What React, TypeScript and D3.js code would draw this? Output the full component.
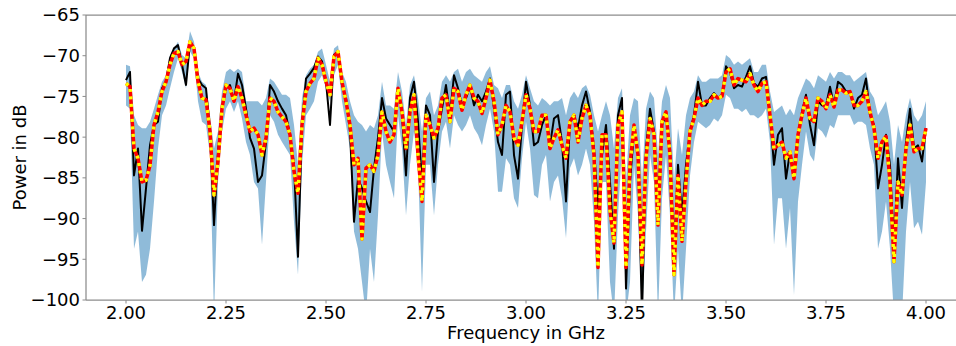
import React from 'react';
import * as d3 from 'd3';

// Frequency grid (GHz), 0.01 GHz spacing from 2.00 to 4.00
const FREQ: number[] = d3.range(201).map((i) => +(2 + i * 0.01).toFixed(2));

// Black line: measured power (dB)
const MEASURED: number[] = [
  -73.0, -72.0, -84.7, -81.4, -91.5, -86.3, -81.0, -78.5, -78.1, -74.0,
  -73.2, -70.3, -69.1, -68.7, -71.1, -73.6, -68.3, -69.1, -72.8, -73.6,
  -74.0, -79.3, -90.8, -81.8, -76.5, -74.0, -73.6, -75.6, -72.2, -73.6,
  -76.5, -80.1, -81.4, -85.5, -84.7, -80.6, -73.6, -74.4, -75.6, -76.5,
  -77.3, -79.7, -83.4, -94.7, -78.5, -72.8, -72.2, -71.5, -70.1, -70.7,
  -73.2, -78.5, -69.9, -69.5, -73.6, -75.2, -79.3, -90.4, -85.1, -86.3,
  -87.9, -89.2, -83.8, -80.1, -75.2, -77.7, -78.5, -79.3, -74.0, -77.3,
  -84.7, -75.2, -73.2, -78.1, -85.5, -76.1, -77.3, -85.5, -79.3, -76.5,
  -73.6, -77.3, -72.4, -74.0, -76.1, -75.2, -73.8, -76.1, -74.8, -75.6,
  -74.4, -72.8, -76.5, -80.6, -82.2, -74.8, -74.4, -82.2, -85.1, -78.5,
  -73.2, -76.1, -81.0, -80.6, -78.5, -77.3, -81.0, -77.7, -77.3, -80.6,
  -87.9, -78.1, -77.3, -78.9, -76.1, -74.4, -76.9, -81.4, -88.7, -82.2,
  -78.5, -85.5, -93.7, -77.3, -75.2, -98.6, -85.5, -79.3, -82.2, -102.0,
  -81.4, -76.5, -79.3, -88.7, -78.5, -77.3, -81.4, -94.5, -83.4, -89.6,
  -83.4, -79.3, -77.3, -73.2, -76.1, -76.1, -75.2, -74.6, -75.2, -74.8,
  -71.3, -72.0, -74.0, -73.6, -73.8, -72.6, -71.3, -73.4, -73.8, -72.8,
  -72.6, -77.3, -83.4, -79.7, -78.9, -85.1, -81.8, -84.2, -79.7, -76.9,
  -74.8, -78.5, -81.0, -75.6, -76.1, -76.1, -73.8, -76.1, -73.2, -73.6,
  -74.4, -74.4, -76.5, -75.2, -74.8, -72.8, -77.3, -78.5, -86.3, -83.4,
  -79.7, -83.4, -93.7, -82.6, -88.7, -80.6, -76.5, -81.4, -81.0, -83.0,
  -78.9,
];

// Red / yellow dashed line: predicted mean (dB)
const PREDICTED: number[] = [
  -73.4, -73.8, -81.4, -82.6, -85.5, -85.3, -83.5, -78.5, -76.9, -74.4,
  -73.2, -71.1, -69.7, -69.5, -71.1, -70.7, -68.3, -69.1, -73.2, -75.2,
  -75.4, -79.3, -87.1, -83.0, -76.5, -73.6, -74.0, -75.6, -73.8, -75.2,
  -77.3, -79.3, -78.9, -79.7, -82.2, -80.1, -75.2, -75.6, -76.9, -77.5,
  -78.1, -79.7, -84.2, -86.9, -78.5, -74.4, -73.4, -72.8, -70.3, -71.1,
  -73.2, -74.8, -70.1, -69.5, -73.2, -75.6, -78.5, -83.4, -82.6, -92.5,
  -83.8, -83.4, -84.2, -82.2, -76.9, -79.3, -80.6, -79.7, -74.0, -76.9,
  -81.4, -76.9, -74.8, -82.2, -87.9, -77.3, -78.5, -80.1, -78.9, -75.2,
  -74.8, -78.1, -74.0, -74.4, -76.7, -74.8, -73.6, -75.2, -75.6, -77.1,
  -75.2, -73.0, -75.6, -79.7, -78.5, -76.1, -76.9, -80.1, -81.0, -78.1,
  -74.8, -76.5, -79.3, -79.3, -77.3, -77.3, -81.4, -80.1, -79.1, -81.0,
  -82.6, -78.1, -77.3, -80.6, -77.7, -76.1, -77.3, -82.2, -96.0, -79.7,
  -79.7, -89.0, -93.0, -78.5, -76.9, -96.0, -83.4, -78.5, -82.2, -95.7,
  -82.6, -77.7, -79.7, -90.8, -78.1, -76.9, -82.2, -96.9, -84.7, -92.8,
  -85.5, -79.3, -77.7, -75.2, -76.1, -75.6, -75.6, -74.8, -75.2, -75.0,
  -72.0, -71.6, -73.6, -72.8, -73.0, -73.2, -72.2, -73.6, -74.4, -73.4,
  -73.2, -77.3, -81.4, -81.0, -80.6, -82.6, -81.8, -85.1, -79.7, -77.3,
  -75.2, -77.7, -78.1, -75.2, -75.6, -76.5, -74.8, -76.3, -74.2, -74.2,
  -74.6, -74.4, -76.1, -76.1, -75.6, -74.4, -76.9, -78.9, -82.6, -80.6,
  -79.9, -85.5, -95.3, -85.5, -87.1, -81.4, -78.5, -81.8, -81.4, -81.4,
  -78.9,
];

// Blue band: upper bound (dB)
const BAND_UPPER: number[] = [
  -71.1, -71.3, -77.3, -78.5, -78.9, -78.9, -78.1, -76.5, -74.8, -73.2,
  -72.4, -69.9, -69.1, -68.3, -69.9, -70.3, -67.0, -68.3, -72.0, -73.2,
  -73.6, -77.3, -81.4, -79.3, -74.4, -72.0, -71.6, -72.0, -71.6, -72.0,
  -75.6, -75.6, -75.6, -75.6, -76.1, -75.2, -72.8, -73.2, -74.0, -74.8,
  -74.8, -75.2, -78.5, -83.4, -75.2, -72.4, -71.6, -71.1, -69.5, -69.1,
  -71.1, -73.2, -69.1, -68.7, -72.0, -73.2, -75.6, -77.3, -78.1, -78.5,
  -79.3, -78.5, -78.9, -77.3, -73.2, -76.1, -76.1, -76.5, -72.0, -74.4,
  -78.5, -73.6, -72.4, -75.2, -79.3, -75.2, -74.4, -77.3, -76.1, -73.2,
  -72.4, -73.2, -72.0, -71.6, -73.2, -72.0, -71.6, -72.4, -72.8, -73.2,
  -72.0, -71.3, -73.6, -74.0, -75.2, -73.6, -73.6, -75.6, -76.5, -74.8,
  -72.4, -74.0, -75.6, -76.1, -75.2, -75.6, -76.1, -75.6, -75.6, -75.2,
  -77.3, -75.2, -74.4, -75.2, -74.0, -73.6, -74.8, -77.3, -79.3, -77.3,
  -75.6, -77.3, -81.4, -75.2, -74.0, -85.5, -77.3, -75.2, -75.6, -85.5,
  -76.5, -74.4, -75.2, -82.2, -75.6, -73.6, -75.2, -85.5, -78.9, -82.2,
  -77.3, -75.2, -74.4, -72.4, -73.2, -73.2, -72.8, -72.8, -72.8, -72.4,
  -69.9, -70.3, -71.1, -70.7, -71.1, -70.7, -70.3, -72.0, -72.0, -71.1,
  -71.1, -74.4, -76.9, -76.5, -76.1, -77.3, -76.5, -77.3, -75.2, -74.0,
  -72.8, -73.2, -74.0, -72.4, -72.8, -73.2, -72.0, -72.8, -72.0, -72.0,
  -72.4, -72.4, -73.2, -72.8, -72.4, -72.0, -74.4, -75.2, -77.3, -76.5,
  -75.6, -78.1, -83.4, -78.5, -80.6, -77.3, -75.2, -77.3, -78.1, -77.3,
  -75.6,
];

// Blue band: lower bound (dB)
const BAND_LOWER: number[] = [
  -76.1, -76.5, -93.7, -91.6, -97.8, -96.9, -93.7, -87.9, -81.4, -77.3,
  -76.1, -74.0, -72.0, -70.3, -72.0, -74.0, -69.5, -70.3, -75.6, -78.1,
  -78.5, -82.2, -102.0, -85.5, -79.3, -76.5, -75.6, -76.9, -75.6, -77.7,
  -80.6, -82.2, -85.5, -86.3, -93.2, -85.5, -77.3, -78.1, -79.7, -80.6,
  -81.4, -82.2, -90.4, -96.9, -83.4, -77.3, -76.5, -75.6, -73.2, -72.4,
  -74.0, -75.6, -72.4, -71.1, -75.6, -78.5, -81.4, -91.6, -93.7, -97.8,
  -102.0, -93.7, -97.8, -89.6, -79.3, -83.4, -85.5, -87.5, -77.3, -81.4,
  -89.6, -83.4, -79.3, -83.4, -99.0, -83.4, -83.4, -89.6, -83.4, -79.3,
  -78.1, -81.4, -77.3, -78.5, -79.3, -78.5, -77.3, -78.9, -79.7, -81.0,
  -78.5, -76.5, -79.3, -86.7, -86.7, -82.6, -83.4, -87.5, -88.7, -82.6,
  -78.1, -81.4, -87.1, -87.5, -83.4, -82.2, -87.9, -85.5, -84.7, -87.5,
  -92.4, -83.8, -82.6, -84.7, -83.4, -81.4, -83.4, -90.4, -102.0, -85.5,
  -85.5, -97.8, -102.0, -89.6, -81.4, -102.0, -97.8, -83.4, -89.6, -102.0,
  -91.6, -82.2, -85.5, -102.0, -87.5, -82.2, -89.6, -102.0, -93.7, -102.0,
  -93.7, -84.7, -80.6, -78.1, -78.5, -78.9, -78.5, -77.7, -78.1, -77.3,
  -74.8, -75.2, -76.5, -76.5, -76.9, -76.5, -77.3, -77.3, -77.7, -77.3,
  -76.5, -80.6, -93.2, -87.5, -87.5, -93.7, -88.7, -99.4, -87.9, -83.4,
  -79.3, -82.2, -83.0, -78.9, -79.3, -80.1, -78.5, -78.9, -77.3, -77.3,
  -77.3, -77.3, -78.5, -78.1, -78.1, -78.5, -81.4, -83.4, -93.7, -91.6,
  -87.9, -93.7, -102.0, -102.0, -102.0, -91.6, -85.5, -91.2, -90.4, -92.0,
  -85.5,
];

const X_TICKS: number[] = [2.0, 2.25, 2.5, 2.75, 3.0, 3.25, 3.5, 3.75, 4.0];
const Y_TICKS: number[] = [-100, -95, -90, -85, -80, -75, -70, -65];
const X_LABEL = 'Frequency in GHz';
const Y_LABEL = 'Power in dB';

const W = 956;
const H = 346;
const PLOT = { left: 86, right: 966, top: 15, bottom: 300 };
const FONT = '"DejaVu Sans", sans-serif';
const SPINE = '#8c8c8c';

export default function App() {
  const x = d3.scaleLinear().domain([1.9, 4.1]).range([PLOT.left, PLOT.right]);
  const y = d3.scaleLinear().domain([-100, -65]).range([PLOT.bottom, PLOT.top]);

  const band = d3
    .area<number>()
    .x((_, i) => x(FREQ[i]))
    .y0((_, i) => y(BAND_LOWER[i]))
    .y1((_, i) => y(BAND_UPPER[i]));
  const line = (vals: number[]) =>
    d3
      .line<number>()
      .x((_, i) => x(FREQ[i]))
      .y((d) => y(d))(vals) || '';

  const fmtMinus = (v: number) => (v < 0 ? '\u2212' + Math.abs(v) : String(v));

  return (
    <svg
      width={W}
      height={H}
      style={{ position: 'fixed', left: 0, top: 0, background: '#fff' }}
      fontFamily={FONT}
    >
      <defs>
        <clipPath id="plotclip">
          <rect x={PLOT.left} y={PLOT.top} width={PLOT.right - PLOT.left} height={PLOT.bottom - PLOT.top} />
        </clipPath>
      </defs>
      <rect x={0} y={0} width={W} height={H} fill="#fff" />
      <g clipPath="url(#plotclip)">
        <path d={band(BAND_UPPER) || ''} fill="#1f77b4" fillOpacity={0.5} stroke="none" />
        <path d={line(MEASURED)} fill="none" stroke="#000" strokeWidth={2} strokeLinejoin="round" />
        <path d={line(PREDICTED)} fill="none" stroke="#ff0000" strokeWidth={3.5} strokeLinejoin="round" />
        <path
          d={line(PREDICTED)}
          fill="none"
          stroke="#ffff00"
          strokeWidth={3.5}
          strokeDasharray="3 4.5"
          strokeLinejoin="round"
        />
      </g>
      {/* spines */}
      <line x1={PLOT.left} x2={PLOT.left} y1={PLOT.top} y2={PLOT.bottom} stroke={SPINE} strokeWidth={1.25} />
      <line x1={PLOT.left} x2={PLOT.right} y1={PLOT.bottom} y2={PLOT.bottom} stroke={SPINE} strokeWidth={1.25} />
      <line x1={PLOT.left} x2={PLOT.right} y1={PLOT.top} y2={PLOT.top} stroke={SPINE} strokeWidth={1.25} />
      {/* x ticks */}
      {X_TICKS.map((t) => (
        <g key={'x' + t}>
          <line x1={x(t)} x2={x(t)} y1={PLOT.bottom} y2={PLOT.bottom + 3.5} stroke={SPINE} strokeWidth={1} />
          <text x={x(t)} y={319} textAnchor="middle" fontSize={18} fill="#000">
            {t.toFixed(2)}
          </text>
        </g>
      ))}
      {/* y ticks */}
      {Y_TICKS.map((t) => (
        <g key={'y' + t}>
          <line x1={PLOT.left - 3.5} x2={PLOT.left} y1={y(t)} y2={y(t)} stroke={SPINE} strokeWidth={1} />
          <text x={PLOT.left - 6} y={y(t)} dy="0.36em" textAnchor="end" fontSize={18} fill="#000">
            {fmtMinus(t)}
          </text>
        </g>
      ))}
      <text x={(PLOT.left + PLOT.right) / 2} y={339} textAnchor="middle" fontSize={18} fill="#000">
        {X_LABEL}
      </text>
      <text
        transform={`translate(26, ${(PLOT.top + PLOT.bottom) / 2}) rotate(-90)`}
        textAnchor="middle"
        fontSize={18}
        fill="#000"
      >
        {Y_LABEL}
      </text>
    </svg>
  );
}
